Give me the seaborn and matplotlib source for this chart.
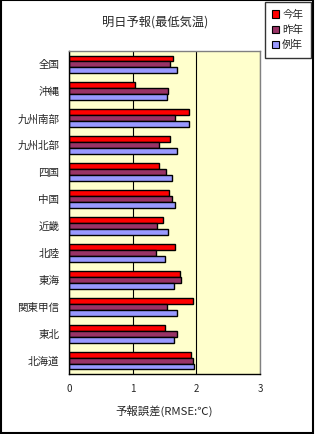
import matplotlib
matplotlib.use("Agg")
import matplotlib.pyplot as plt
import seaborn as sns
import pandas as pd
from matplotlib.patches import Rectangle, Patch
from matplotlib.ticker import FixedLocator

regions = ["全国", "沖縄", "九州南部", "九州北部", "四国", "中国", "近畿", "北陸",
           "東海", "関東甲信", "東北", "北海道"]
series_names = ["今年", "昨年", "例年"]
this_year = [1.64, 1.04, 1.89, 1.59, 1.42, 1.57, 1.48, 1.67, 1.75, 1.95, 1.51, 1.92]
last_year = [1.59, 1.56, 1.67, 1.42, 1.53, 1.62, 1.39, 1.37, 1.76, 1.54, 1.70, 1.95]
normal_year = [1.69, 1.54, 1.89, 1.70, 1.61, 1.67, 1.56, 1.51, 1.65, 1.69, 1.65, 1.97]
x_ticks = [0, 1, 2, 3]
colors = ["#FF0000", "#993366", "#9999FF"]

rows = []
for name, vals in zip(series_names, [this_year, last_year, normal_year]):
    for r, v in zip(regions, vals):
        rows.append({"地域": r, "系列": name, "RMSE": v})
df = pd.DataFrame(rows)

sns.set_theme(style="white")
plt.rcParams["font.family"] = ["Noto Sans CJK JP", "DejaVu Sans"]

fig = plt.figure(figsize=(3.16, 4.34), dpi=100)
ax = fig.add_axes([69/316, 1-374/434, 191/316, 323/434])
ax.set_facecolor("#FFFFCC")

sns.barplot(data=df, y="地域", x="RMSE", hue="系列", order=regions,
            hue_order=series_names, palette=colors, orient="h",
            width=0.66, edgecolor="black", linewidth=1.0, ax=ax, legend=False,
            saturation=1)

ax.set_xlim(0, 3)
ax.set_ylim(len(regions)-0.5, -0.5)
ax.set_xticks(x_ticks)
ax.set_xticklabels([str(t) for t in x_ticks], fontsize=7)
ax.grid(axis="x", color="black", linewidth=0.8)
ax.grid(axis="y", visible=False)
ax.set_axisbelow(True)
ax.tick_params(axis="x", length=0, pad=7)
ax.tick_params(axis="y", which="major", length=0, pad=7, labelsize=7.6)
ax.yaxis.set_minor_locator(FixedLocator([i - 0.5 for i in range(len(regions)+1)]))
ax.tick_params(axis="y", which="minor", direction="in", length=3, width=0.8, color="black")
ax.set_ylabel("")
ax.set_xlabel("予報誤差(RMSE:℃)", fontsize=8.2, labelpad=8)

for side in ["left", "bottom"]:
    ax.spines[side].set_color("black")
    ax.spines[side].set_linewidth(1.0)
    ax.spines[side].set_visible(True)
for side in ["top", "right"]:
    ax.spines[side].set_color("#808080")
    ax.spines[side].set_linewidth(1.0)
    ax.spines[side].set_visible(True)

fig.text(155/316, 1-22/434, "明日予報(最低気温)", ha="center", va="center", fontsize=8.8)

handles = [Patch(facecolor=c, edgecolor="black", linewidth=0.8) for c in colors]
leg = fig.legend(handles, series_names, loc="upper right", bbox_to_anchor=(310.5/316, 1-2/434),
                 fontsize=7.6, frameon=True, fancybox=False, edgecolor="black",
                 handlelength=0.7, handleheight=0.7, handletextpad=0.25,
                 labelspacing=0.5, borderpad=0.7, borderaxespad=0)
leg.get_frame().set_linewidth(1.0)

fig.add_artist(Rectangle((0.5/316, 1-432.5/434), 312.5/316, 432.5/434, transform=fig.transFigure,
                         fill=False, edgecolor="black", linewidth=1.5))

fig.savefig("out.png", dpi=100, facecolor="white")
